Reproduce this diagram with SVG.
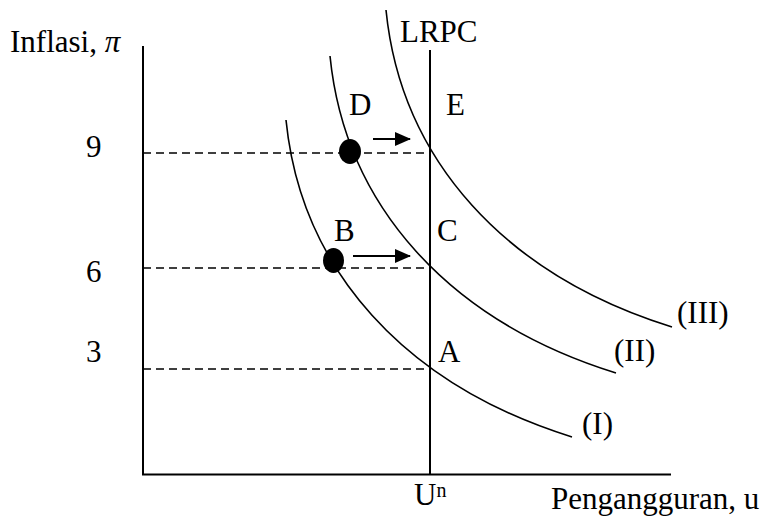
<svg xmlns="http://www.w3.org/2000/svg" width="767" height="518" viewBox="0 0 767 518">
  <defs>
    <style>
      text { font-family: "Liberation Serif", "Times New Roman", serif; font-size: 31px; fill: #000; }
      .axis { stroke: #000; stroke-width: 2; fill: none; }
      .curve { stroke: #000; stroke-width: 1.6; fill: none; }
      .dash { stroke: #000; stroke-width: 1.6; stroke-dasharray: 8 5; fill: none; }
      .arrow { stroke: #000; stroke-width: 2; fill: none; }
    </style>
    <path id="pc" d="M286,120 C301,270 405,385 572,437"/>
    <marker id="ah" viewBox="0 0 16 14" refX="15" refY="7" markerWidth="16" markerHeight="14" markerUnits="userSpaceOnUse" orient="auto">
      <path d="M0,0 L16,7 L0,14 Z" fill="#000"/>
    </marker>
  </defs>
  <rect width="767" height="518" fill="#fff"/>

  <g id="axes">
    <line class="axis" x1="143" y1="46" x2="143" y2="475"/>
    <line class="axis" x1="142" y1="474.5" x2="671" y2="474.5"/>
    <text x="10" y="52">Inflasi, <tspan font-style="italic">π</tspan></text>
    <text x="551" y="509">Pengangguran, u</text>
    <text x="86" y="157">9</text>
    <text x="86" y="282">6</text>
    <text x="86" y="362">3</text>
  </g>

  <g id="lrpc">
    <line class="axis" x1="430" y1="50" x2="430" y2="475"/>
    <text x="400" y="42">LRPC</text>
    <text x="414" y="505">U<tspan font-size="20" dy="-8">n</tspan></text>
  </g>

  <g id="connectors">
    <line class="dash" x1="143" y1="153" x2="430" y2="153"/>
    <line class="dash" x1="143" y1="268" x2="430" y2="268"/>
    <line class="dash" x1="143" y1="369" x2="430" y2="369"/>
    <line class="arrow" x1="373" y1="139" x2="410" y2="139" marker-end="url(#ah)"/>
    <line class="arrow" x1="353" y1="256" x2="410" y2="256" marker-end="url(#ah)"/>
  </g>

  <g id="curve-I">
    <use href="#pc" class="curve"/>
    <text x="582" y="434">(I)</text>
  </g>
  <g id="curve-II">
    <use href="#pc" class="curve" transform="translate(44,-64)"/>
    <text x="614" y="361">(II)</text>
  </g>
  <g id="curve-III">
    <use href="#pc" class="curve" transform="translate(100,-110)"/>
    <text x="677" y="323">(III)</text>
  </g>

  <g id="point-A"><text x="438" y="362">A</text></g>
  <g id="point-B">
    <ellipse cx="333.5" cy="260.5" rx="10.5" ry="12.5" fill="#000"/>
    <text x="334" y="241">B</text>
  </g>
  <g id="point-C"><text x="437" y="241">C</text></g>
  <g id="point-D">
    <ellipse cx="350" cy="151.5" rx="11" ry="12.5" fill="#000"/>
    <text x="349" y="115">D</text>
  </g>
  <g id="point-E"><text x="446" y="115">E</text></g>
</svg>
